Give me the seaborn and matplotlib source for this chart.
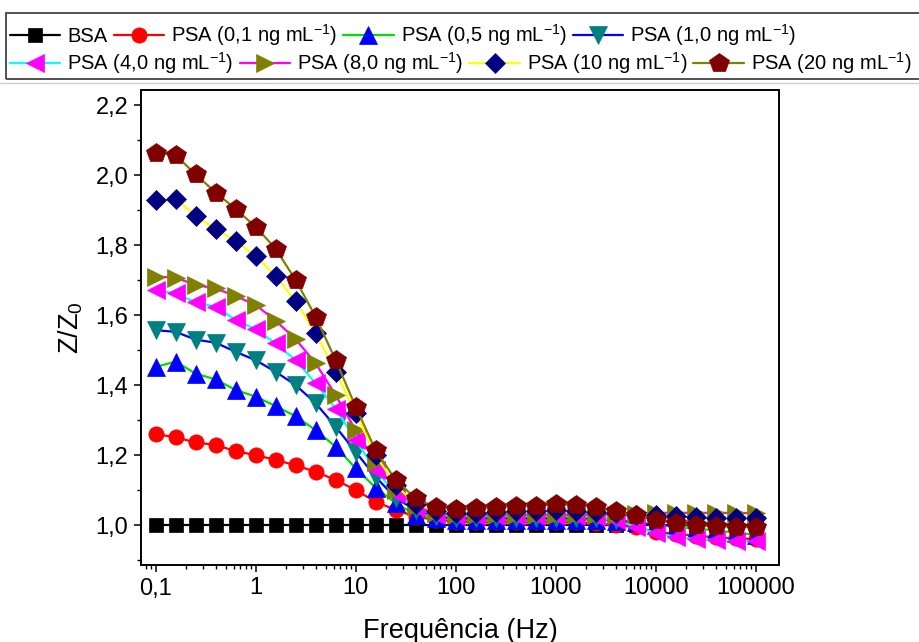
import numpy as np
import pandas as pd
import matplotlib
matplotlib.use("Agg")
import matplotlib.pyplot as plt
import seaborn as sns
from matplotlib.ticker import FixedLocator, FuncFormatter, MultipleLocator, LogLocator, NullFormatter
from matplotlib.patches import Rectangle
from matplotlib.lines import Line2D

# ---------------- data ----------------
freq = [0.1, 0.158, 0.251, 0.398, 0.631, 1, 1.58, 2.51, 3.98, 6.31,
        10, 15.8, 25.1, 39.8, 63.1, 100, 158, 251, 398, 631,
        1000, 1585, 2512, 3981, 6310, 10000, 15850, 25120, 39810, 63100, 100000]

bsa = [1.0] * 31
psa_01 = [1.260, 1.251, 1.236, 1.229, 1.211, 1.200, 1.186, 1.171, 1.152, 1.129,
          1.100, 1.067, 1.043, 1.024, 1.015, 1.010, 1.008, 1.008, 1.008, 1.008,
          1.008, 1.008, 1.005, 1.000, 0.995, 0.980, 0.975, 0.970, 0.965, 0.962, 0.960]
psa_05 = [1.452, 1.467, 1.433, 1.416, 1.386, 1.367, 1.340, 1.311, 1.271, 1.224,
          1.162, 1.107, 1.063, 1.029, 1.020, 1.015, 1.015, 1.015, 1.015, 1.015,
          1.015, 1.015, 1.015, 1.012, 1.010, 1.000, 0.995, 0.990, 0.985, 0.978, 0.972]
psa_10 = [1.557, 1.552, 1.530, 1.521, 1.495, 1.471, 1.438, 1.400, 1.348, 1.281,
          1.209, 1.138, 1.077, 1.043, 1.025, 1.020, 1.020, 1.020, 1.020, 1.020,
          1.020, 1.020, 1.020, 1.015, 1.005, 1.000, 1.000, 1.000, 1.000, 1.000, 1.000]
psa_40 = [1.671, 1.662, 1.636, 1.624, 1.586, 1.559, 1.519, 1.471, 1.405, 1.333,
          1.243, 1.157, 1.089, 1.049, 1.030, 1.025, 1.025, 1.025, 1.025, 1.025,
          1.025, 1.025, 1.022, 1.015, 0.995, 0.977, 0.967, 0.960, 0.957, 0.954, 0.954]
psa_80 = [1.710, 1.707, 1.686, 1.676, 1.654, 1.629, 1.584, 1.531, 1.462, 1.371,
          1.271, 1.180, 1.100, 1.055, 1.035, 1.030, 1.030, 1.030, 1.030, 1.030,
          1.030, 1.030, 1.030, 1.030, 1.032, 1.035, 1.035, 1.035, 1.035, 1.035, 1.034]
psa_100 = [1.929, 1.933, 1.883, 1.846, 1.811, 1.769, 1.712, 1.640, 1.548, 1.438,
           1.319, 1.200, 1.114, 1.060, 1.040, 1.035, 1.035, 1.038, 1.040, 1.040,
           1.042, 1.040, 1.038, 1.035, 1.030, 1.028, 1.025, 1.022, 1.020, 1.020, 1.020]
psa_200 = [2.064, 2.057, 2.002, 1.950, 1.903, 1.852, 1.790, 1.700, 1.595, 1.471,
           1.338, 1.214, 1.129, 1.076, 1.051, 1.045, 1.048, 1.051, 1.054, 1.054,
           1.060, 1.057, 1.051, 1.040, 1.029, 1.014, 1.005, 1.000, 0.997, 0.995, 0.995]

labels = ["BSA",
          "PSA (0,1 ng mL$^{-1}$)", "PSA (0,5 ng mL$^{-1}$)", "PSA (1,0 ng mL$^{-1}$)",
          "PSA (4,0 ng mL$^{-1}$)", "PSA (8,0 ng mL$^{-1}$)", "PSA (10 ng mL$^{-1}$)",
          "PSA (20 ng mL$^{-1}$)"]
series = [bsa, psa_01, psa_05, psa_10, psa_40, psa_80, psa_100, psa_200]

xtick_vals = [0.1, 1, 10, 100, 1000, 10000, 100000]
xtick_labels = ["0,1", "1", "10", "100", "1000", "10000", "100000"]

# ---------------- styles ----------------
line_colors = ["#000000", "#ff0000", "#00dd00", "#0000ff", "#00ffff", "#ff00ff", "#ffff00", "#808000"]
marker_colors = ["#000000", "#ff0000", "#0000ff", "#008080", "#ff00ff", "#808000", "#000080", "#800000"]
markers = ["s", "o", "^", "v", "<", ">", "D", "p"]
msizes = [10, 11, 13.5, 13.5, 13.5, 13.5, 10, 14.5]

sns.set_theme(style="white")
plt.rcParams["font.family"] = ["Liberation Sans", "DejaVu Sans"]
plt.rcParams["mathtext.default"] = "regular"
plt.rcParams["axes.unicode_minus"] = False
plt.rcParams["text.color"] = "black"
plt.rcParams["axes.labelcolor"] = "black"
plt.rcParams["xtick.color"] = "black"
plt.rcParams["ytick.color"] = "black"

fig = plt.figure(figsize=(9.2, 6.42), dpi=100)
ax = fig.add_axes([141 / 920, 1 - 565 / 642, (779 - 141) / 920, (565 - 90) / 642])

for vals, lab, lc, mc, mk, ms in zip(series, labels, line_colors, marker_colors, markers, msizes):
    df = pd.DataFrame({"f": freq, "z": vals})
    sns.lineplot(data=df, x="f", y="z", ax=ax, color=lc, linewidth=1.6,
                 marker=mk, markersize=ms, markerfacecolor=mc, markeredgecolor=mc,
                 markeredgewidth=0.5, label=lab, legend=False)

ax.set_xscale("log")
ax.set_xlim(0.0713, 1.71e5)
ax.set_ylim(0.886, 2.243)

ax.xaxis.set_major_locator(FixedLocator(xtick_vals))
ax.xaxis.set_major_formatter(FuncFormatter(lambda v, p: xtick_labels[xtick_vals.index(v)] if v in xtick_vals else ""))
ax.xaxis.set_minor_locator(LogLocator(base=10, subs=np.arange(2, 10), numticks=20))
ax.xaxis.set_minor_formatter(NullFormatter())
ax.yaxis.set_major_locator(MultipleLocator(0.2))
ax.yaxis.set_minor_locator(MultipleLocator(0.1))
ax.yaxis.set_major_formatter(FuncFormatter(lambda v, p: f"{v:.1f}".replace(".", ",")))

ax.tick_params(axis="both", which="major", direction="out", length=5, width=1.1,
               labelsize=17, color="black", labelcolor="black",
               bottom=True, left=True, top=False, right=False, pad=4)
ax.tick_params(axis="both", which="minor", direction="out", length=3, width=1.0,
               color="black", bottom=True, left=True, top=False, right=False)
for s in ax.spines.values():
    s.set_color("black")
    s.set_linewidth(1.4)

ax.set_xlabel("Frequência (Hz)", fontsize=19.5, labelpad=13, color="black")
ax.set_ylabel("Z/Z$_0$", fontsize=19.5, labelpad=8, color="black")
ax.grid(False)

# ---------------- legend ----------------
handles = ax.get_lines()
h1, l1 = handles[:4], labels[:4]
h2, l2 = handles[4:], labels[4:]
common = dict(ncol=4, frameon=False, fontsize=14.5, handlelength=2.5, handletextpad=0.35,
              columnspacing=0.3, borderpad=0, borderaxespad=0, loc="center left",
              labelcolor="black")
fig.legend(h1, l1, bbox_to_anchor=(10 / 920, 1 - 35 / 642), **common)
fig.legend(h2, l2, bbox_to_anchor=(10 / 920, 1 - 63 / 642), **common)
fig.patches.append(Rectangle((6 / 920, 1 - 79 / 642), 1.0, 66 / 642, transform=fig.transFigure,
                             fill=False, edgecolor="#333333", linewidth=1.2))
fig.lines.append(Line2D([0, 1], [1 - 83 / 642, 1 - 83 / 642], transform=fig.transFigure,
                        color="#cccccc", linewidth=1.0))

fig.savefig("out.png", dpi=100)
